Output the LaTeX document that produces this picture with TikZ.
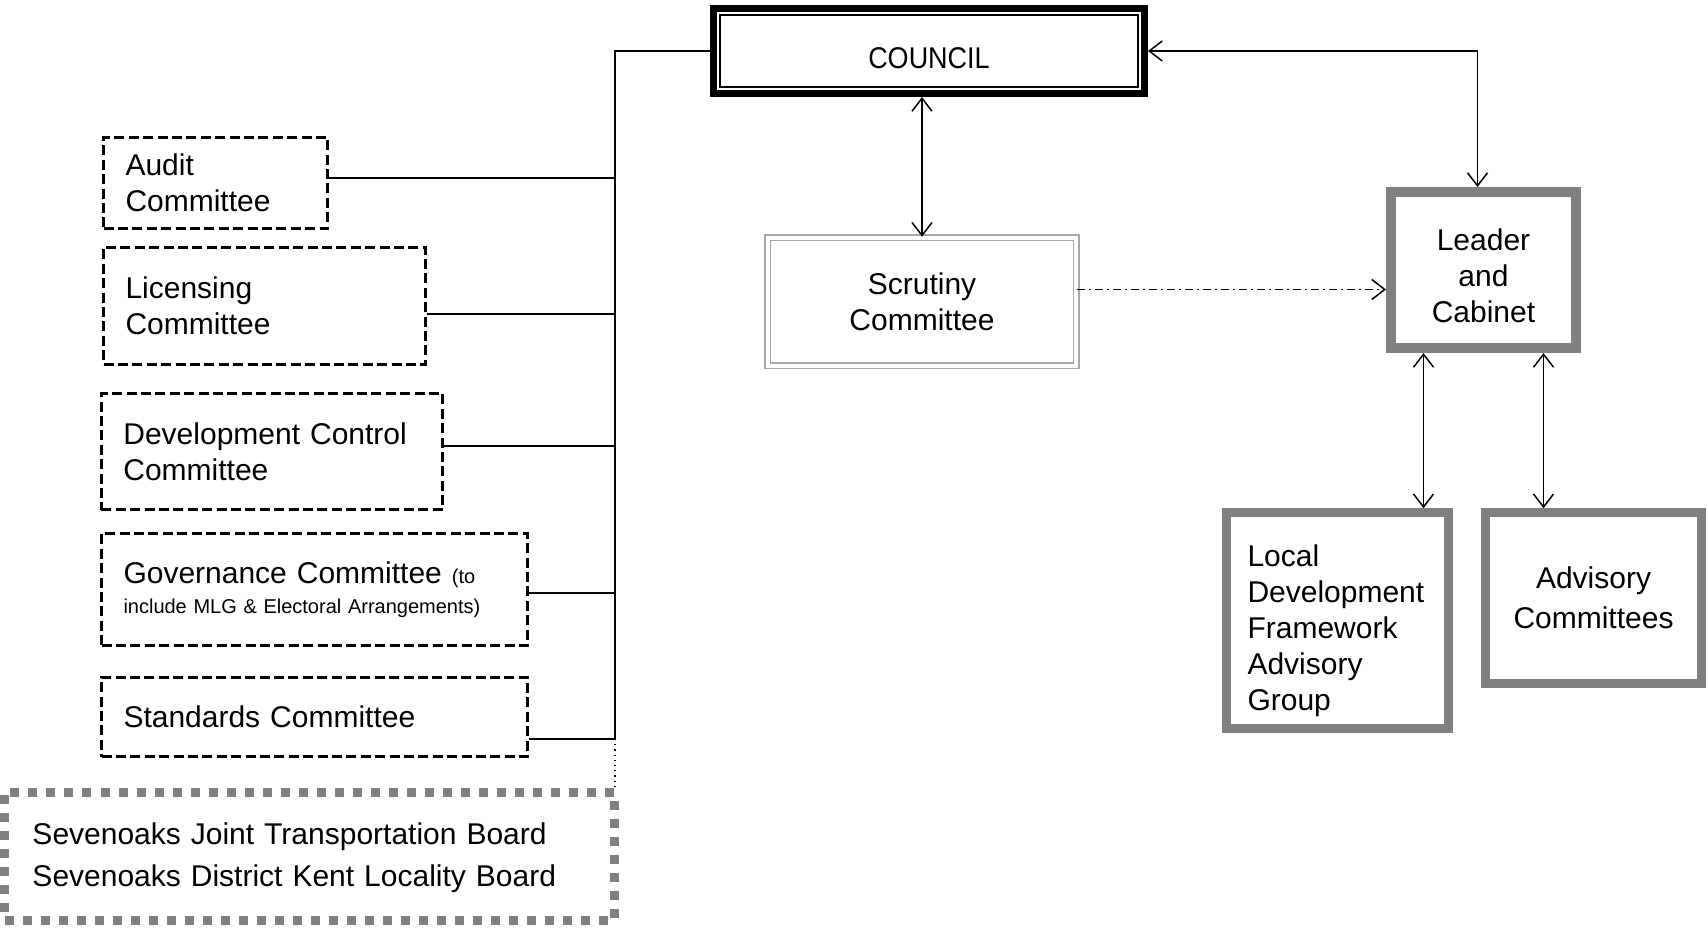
\documentclass[tikz,border=0pt]{standalone}
\usepackage{fontspec}
\setmainfont{Liberation Sans}
\usetikzlibrary{arrows.meta}

\begin{document}
\begin{tikzpicture}[x=0.5pt, y=-0.5pt,
    every node/.style={font=\fontsize{15pt}{18pt}\selectfont},
    committee/.style={draw, line width=1.4pt, dash pattern=on 5pt off 2.2pt,
        inner xsep=11pt, inner ysep=0pt, align=left},
    greybox/.style={draw=gray, align=center, inner sep=0pt},
    link/.style={line width=0.9pt},
    tip/.style={line width=0.75pt, #1},
    tip/.default={{Straight Barb[length=6.5pt,width=10pt]}-{Straight Barb[length=6.5pt,width=10pt]}}
]
    \useasboundingbox (0,0) rectangle (1708,928);

    % Council
    \node[draw, line width=3.5pt, minimum width=215.5pt, minimum height=42.5pt, text height=17.5pt]
        (council) at (929,51) {\scalebox{0.9}[1]{COUNCIL}};
    \draw[line width=0.8pt] ([shift={(4.9pt,-4.9pt)}]council.north west)
        rectangle ([shift={(-4.9pt,4.9pt)}]council.south east);

    % Committees
    \node[committee, text width=90pt, minimum height=45.6pt] (audit) at (215.5,183)
        {Audit\\Committee};
    \node[committee, text width=139pt, minimum height=58.6pt] (licensing) at (264.5,306)
        {Licensing\\Committee};
    \node[committee, text width=148.6pt, minimum height=58pt] (devcontrol) at (272,451.5)
        {Development Control\\Committee};
    \node[committee, text width=191pt, minimum height=56pt] (governance) at (314.5,589.5)
        {Governance Committee {\fontsize{10pt}{12pt}\selectfont\spaceskip=.3333em (to}\\[-3pt]
         {\fontsize{10pt}{12pt}\selectfont\spaceskip=.3333em include MLG \& Electoral Arrangements)}};
    \node[committee, text width=191pt, minimum height=39.6pt] (standards) at (314.5,717)
        {Standards Committee};

    % Joint boards
    \node[draw=gray, line width=4.5pt, dash pattern=on 4.5pt off 4.5pt,
        minimum width=304.75pt, minimum height=64pt, inner xsep=14pt, text width=276.75pt,
        align=left, font=\fontsize{15pt}{21pt}\selectfont, text height=13pt] (sevenoaks) at (309.25,856)
        {Sevenoaks Joint Transportation Board\\Sevenoaks District Kent Locality Board};

    % Scrutiny
    \node[draw=gray!70, double, double distance=2pt, line width=0.8pt,
        minimum width=154.4pt, minimum height=64pt, align=center] (scrutiny) at (922,301.5)
        {Scrutiny\\Committee};

    % Leader and Cabinet
    \node[greybox, line width=5pt, minimum width=92.5pt, minimum height=78pt, text height=53pt]
        (leader) at (1483.5,270) {Leader\\and\\Cabinet};
    \node[greybox, line width=4.3pt, minimum width=111pt, minimum height=108pt,
        inner xsep=10.5pt, text width=90pt, align=left, text height=21pt] (ldf) at (1337.5,620.5)
        {Local\\Development\\Framework\\Advisory\\Group};
    \node[greybox, line width=4.3pt, minimum width=108pt, minimum height=85.5pt,
        font=\fontsize{15pt}{20pt}\selectfont] (advisory) at (1593.5,598)
        {Advisory\\Committees};

    % Lines to the committees
    \coordinate (bus) at (615,51);
    \coordinate (busend) at ([yshift=-11pt]standards.east -| bus);
    \draw[link] (council.west) -- (bus) -- (busend) -- (busend -| standards.east);
    \foreach \n/\dy in {audit/2.7pt, licensing/-3.8pt, devcontrol/2.7pt, governance/-1.6pt}
        \draw[link] ([yshift=\dy]\n.east) -- ([yshift=\dy]\n.east -| bus);
    \draw[dotted, line width=0.6pt] (busend) -- (busend |- sevenoaks.north);

    % Arrows
    \draw[tip] (council.south -| scrutiny.north) -- (scrutiny.north);
    \draw[tip] (council.east) -| ([xshift=-3pt]leader.north);
    \draw[tip={-{Straight Barb[length=6.5pt,width=10pt]}},
        dash pattern=on 4pt off 2pt on 1pt off 2pt]
        ([yshift=6pt]scrutiny.east) -- ([yshift=6pt]scrutiny.east -| leader.west);
    \draw[tip] ([xshift=-30pt]leader.south) -- ([xshift=-30pt]leader.south |- ldf.north);
    \draw[tip] ([xshift=30pt]leader.south) -- ([xshift=30pt]leader.south |- advisory.north);
\end{tikzpicture}
\end{document}
